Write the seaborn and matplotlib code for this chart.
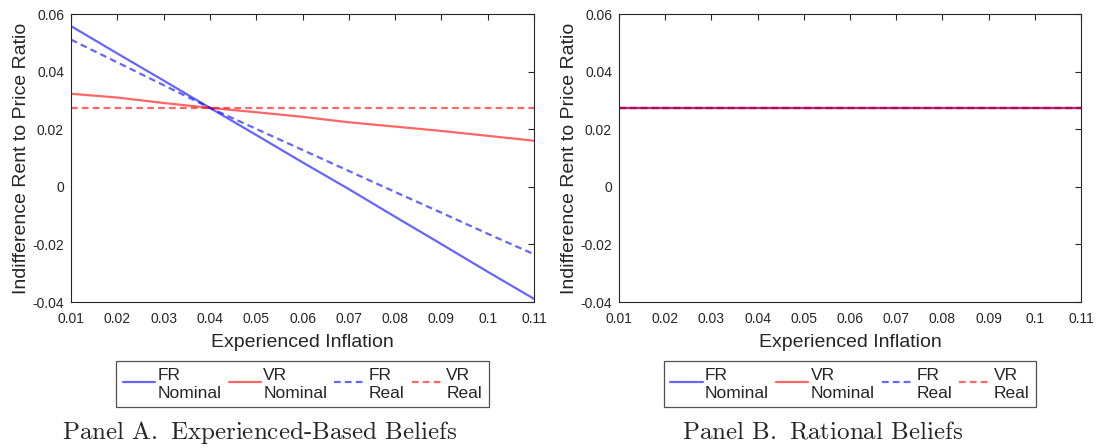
import numpy as np
import pandas as pd
import seaborn as sns
import matplotlib.pyplot as plt
from matplotlib.lines import Line2D
from matplotlib.legend_handler import HandlerLine2D

# experienced inflation grid
infl = [0.01, 0.02, 0.03, 0.04, 0.05, 0.06, 0.07, 0.08, 0.09, 0.10, 0.11]

# Panel A: experienced-based beliefs
fr_nominal_a = [0.0558, 0.0463, 0.0369, 0.0274, 0.0180, 0.0085, -0.0008, -0.0104, -0.0199, -0.0295, -0.0389]
vr_nominal_a = [0.0323, 0.0310, 0.0291, 0.0274, 0.0259, 0.0243, 0.0224, 0.0209, 0.0194, 0.0177, 0.0160]
fr_real_a = [0.0511, 0.0432, 0.0353, 0.0274, 0.0201, 0.0128, 0.0055, -0.0018, -0.0090, -0.0163, -0.0234]
vr_real_a = [0.0274, 0.0274, 0.0274, 0.0274, 0.0274, 0.0274, 0.0274, 0.0274, 0.0274, 0.0274, 0.0274]

# Panel B: rational beliefs (all four coincide)
fr_nominal_b = [0.0274, 0.0274, 0.0274, 0.0274, 0.0274, 0.0274, 0.0274, 0.0274, 0.0274, 0.0274, 0.0274]
vr_nominal_b = [0.0274, 0.0274, 0.0274, 0.0274, 0.0274, 0.0274, 0.0274, 0.0274, 0.0274, 0.0274, 0.0274]
fr_real_b = [0.0274, 0.0274, 0.0274, 0.0274, 0.0274, 0.0274, 0.0274, 0.0274, 0.0274, 0.0274, 0.0274]
vr_real_b = [0.0274, 0.0274, 0.0274, 0.0274, 0.0274, 0.0274, 0.0274, 0.0274, 0.0274, 0.0274, 0.0274]

series_labels = ['FR\nNominal', 'VR\nNominal', 'FR\nReal', 'VR\nReal']
xtick_vals = [0.01, 0.02, 0.03, 0.04, 0.05, 0.06, 0.07, 0.08, 0.09, 0.10, 0.11]
xtick_labels = ['0.01', '0.02', '0.03', '0.04', '0.05', '0.06', '0.07', '0.08', '0.09', '0.1', '0.11']
ytick_vals = [-0.04, -0.02, 0, 0.02, 0.04, 0.06]
ytick_labels = ['-0.04', '-0.02', '0', '0.02', '0.04', '0.06']
panel_titles = ['Panel A$\\mathbf{.}$ Experienced-Based Beliefs', 'Panel B$\\mathbf{.}$ Rational Beliefs']

sns.set_style('white')
plt.rcParams['font.family'] = ['Liberation Sans', 'DejaVu Sans']
plt.rcParams['axes.unicode_minus'] = False
plt.rcParams['mathtext.fontset'] = 'cm'

colors = ['blue', 'red', 'blue', 'red']
dash = (0, (3.0, 1.9))
styles = ['-', '-', dash, dash]
alpha = 0.6
ink = '#262626'


class RaisedLine(HandlerLine2D):
    # put the legend sample between the two text lines, as MATLAB does
    def create_artists(self, legend, orig_handle, xdescent, ydescent,
                       width, height, fontsize, trans):
        arts = super().create_artists(legend, orig_handle, xdescent, ydescent,
                                      width, height, fontsize, trans)
        for a in arts:
            a.set_ydata(np.asarray(a.get_ydata()) + 0.12 * fontsize)
        return arts


fig = plt.figure(figsize=(10.96, 4.48), dpi=100)
ax_a = fig.add_axes([71 / 1096, 1 - 302 / 448, 463 / 1096, 288 / 448])
ax_b = fig.add_axes([619 / 1096, 1 - 302 / 448, 462 / 1096, 288 / 448])

panels = [
    (ax_a, [fr_nominal_a, vr_nominal_a, fr_real_a, vr_real_a], 260),
    (ax_b, [fr_nominal_b, vr_nominal_b, fr_real_b, vr_real_b], 823),
]

for i, (ax, data, title_x) in enumerate(panels):
    for vals, lab, c, ls in zip(data, series_labels, colors, styles):
        df = pd.DataFrame({'infl': infl, 'ratio': vals})
        sns.lineplot(data=df, x='infl', y='ratio', color=c, linestyle=ls,
                     alpha=alpha, lw=1.6, ax=ax)
    ax.set_xlim(0.01, 0.11)
    ax.set_ylim(-0.04, 0.06)
    ax.set_xticks(xtick_vals)
    ax.set_xticklabels(xtick_labels)
    ax.set_yticks(ytick_vals)
    ax.set_yticklabels(ytick_labels)
    ax.tick_params(direction='in', top=True, right=True, length=4, width=0.8,
                   colors=ink, labelcolor=ink, labelsize=10)
    ax.tick_params(axis='x', pad=7)
    ax.tick_params(axis='y', pad=5)
    for sp in ax.spines.values():
        sp.set_visible(True)
        sp.set_color(ink)
        sp.set_linewidth(0.8)
    ax.set_xlabel('Experienced Inflation', fontsize=14, color=ink, labelpad=6)
    ax.set_ylabel('Indifference Rent to Price Ratio', fontsize=14, color=ink, labelpad=2)

    handles = [Line2D([], [], color=c, linestyle=ls, alpha=alpha, lw=1.6)
               for c, ls in zip(colors, styles)]
    pos = ax.get_position()
    cx = (pos.x0 + pos.x1) / 2
    leg = ax.legend(handles, series_labels, loc='center', ncol=4,
                    bbox_to_anchor=(cx, 1 - 384 / 448), bbox_transform=fig.transFigure,
                    frameon=True, fancybox=False, edgecolor=ink, fontsize=12.5,
                    handlelength=1.85, handletextpad=0.15, columnspacing=0.4,
                    borderpad=0.38, borderaxespad=0, labelspacing=0.2,
                    handler_map={Line2D: RaisedLine()})
    leg.get_frame().set_linewidth(0.9)
    for t in leg.get_texts():
        t.set_linespacing(1.25)
    fig.text(title_x / 1096, 1 - 432 / 448, panel_titles[i], family='cmr10', fontsize=18,
             ha='center', va='center')

fig.savefig('out.png', dpi=100)
